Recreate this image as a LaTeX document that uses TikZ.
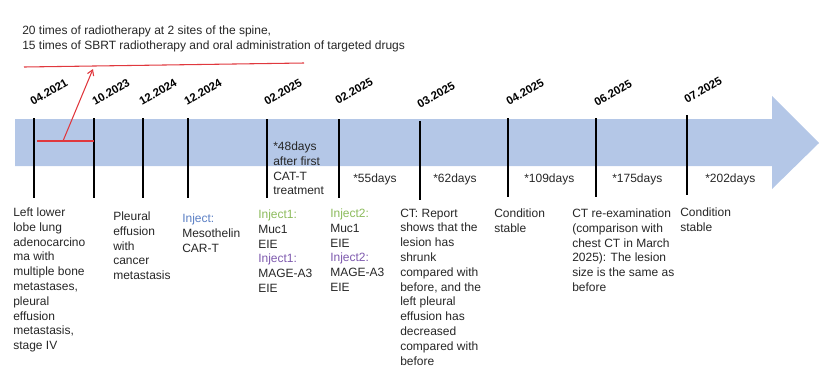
\documentclass[tikz,border=0pt]{standalone}
\usepackage{fontspec}
\setmainfont{Liberation Sans}
\usetikzlibrary{arrows.meta}
\definecolor{bandblue}{HTML}{B4C7E7}
\definecolor{markred}{HTML}{E0383E}
\definecolor{injblue}{HTML}{5B7FC4}
\definecolor{injgreen}{HTML}{8CBB5C}
\definecolor{injpurple}{HTML}{7E5AAE}
\newcommand{\bandcolor}{bandblue}
\newcommand{\tickwidth}{1.5pt}
\newcommand{\redwidth}{0.8pt}

\begin{document}
\begin{tikzpicture}[x=0.75pt,y=0.75pt,
  datelabel/.style={font=\bfseries\fontsize{8.5}{10}\selectfont, anchor=base west, inner sep=0, rotate=30},
  note/.style={font=\fontsize{9}{11.1}\selectfont, align=left, anchor=north west, inner sep=0, text=black!85},
  tickline/.style={line width=\tickwidth}]
\useasboundingbox (0,0) rectangle (823,-383);
% band
\fill[\bandcolor] (15,-119) -- (772,-119) -- (772,-96) -- (819,-143) -- (772,-189) -- (772,-166) -- (15,-166) -- cycle;
% ticks
\coordinate (1top) at (34,-118);  \coordinate (1bot) at (34,-198);
\coordinate (2top) at (94,-118);  \coordinate (2bot) at (94,-198);
\coordinate (3top) at (143,-118); \coordinate (3bot) at (143,-198);
\coordinate (4top) at (188,-118); \coordinate (4bot) at (188,-198);
\coordinate (5top) at (267,-119); \coordinate (5bot) at (267,-198);
\coordinate (6top) at (339,-119); \coordinate (6bot) at (339,-198);
\coordinate (7top) at (420,-121); \coordinate (7bot) at (420,-200);
\coordinate (8top) at (508,-118); \coordinate (8bot) at (508,-197);
\coordinate (9top) at (596,-118); \coordinate (9bot) at (596,-197);
\coordinate (10top) at (687,-115); \coordinate (10bot) at (687,-195);
\draw[tickline] (1top) -- (1bot);
\draw[tickline] (2top) -- (2bot);
\draw[tickline] (3top) -- (3bot);
\draw[tickline] (4top) -- (4bot);
\draw[tickline] (5top) -- (5bot);
\draw[tickline] (6top) -- (6bot);
\draw[tickline] (7top) -- (7bot);
\draw[tickline] (8top) -- (8bot);
\draw[tickline] (9top) -- (9bot);
\draw[tickline] (10top) -- (10bot);
% dates
\node[datelabel] (1) at (33,-106) {04.2021};
\node[datelabel] (2) at (95,-106) {10.2023};
\node[datelabel] (3) at (142,-106) {12.2024};
\node[datelabel] (4) at (187,-106) {12.2024};
\node[datelabel] (5) at (267,-106) {02.2025};
\node[datelabel] (6) at (338,-105) {02.2025};
\node[datelabel] (7) at (420,-109) {03.2025};
\node[datelabel] (8) at (509,-106) {04.2025};
\node[datelabel] (9) at (597,-107) {06.2025};
\node[datelabel] (10) at (687,-104) {07.2025};
% radiotherapy
\node[note] (radio) at (22,-25.5) {20 times of radiotherapy at 2 sites of the spine,\\[0.4pt]15 times of SBRT radiotherapy and oral administration of targeted drugs};
\coordinate (rl) at (24,-67);
\coordinate (rr) at (304,-63);
\coordinate (sl) at (37,-141);
\coordinate (sr) at (94,-141);
\coordinate (sfoot) at (63,-141);
\coordinate (shead) at (93,-69);
\draw[markred, line width=\redwidth] (rl) -- (rr);
\draw[markred, line width=\redwidth] (sl) -- (sr);
\draw[markred, line width=\redwidth, -{Straight Barb[length=4pt,width=5pt]}] (sfoot) -- (shead);
% days
\node[note] (d48) at (273,-141.5) {*48days\\after first\\CAT-T\\treatment};
\node[note] (d55) at (353,-173.5) {*55days};
\node[note] (d62) at (433,-173.5) {*62days};
\node[note] (d109) at (524,-173.5) {*109days};
\node[note] (d175) at (612,-173.5) {*175days};
\node[note] (d202) at (705,-173.5) {*202days};
% events
\node[note] (e1) at (13,-207.5) {Left lower\\lobe lung\\adenocarcino\\ma with\\multiple bone\\metastases,\\pleural\\effusion\\metastasis,\\stage IV};
\node[note] (e2) at (113,-211.5) {Pleural\\effusion\\with\\cancer\\metastasis};
\node[note] (e3) at (182,-213.5) {\textcolor{injblue}{Inject:}\\Mesothelin\\CAR-T};
\node[note] (e4) at (258,-209.5) {\textcolor{injgreen}{Inject1:}\\Muc1\\EIE\\\textcolor{injpurple}{Inject1:}\\MAGE-A3\\EIE};
\node[note] (e5) at (330,-208.5) {\textcolor{injgreen}{Inject2:}\\Muc1\\EIE\\\textcolor{injpurple}{Inject2:}\\MAGE-A3\\EIE};
\node[note] (e6) at (400,-208.5) {CT: Report\\shows that the\\lesion has\\shrunk\\compared with\\before, and the\\left pleural\\effusion has\\decreased\\compared with\\before};
\node[note] (e7) at (494,-208.5) {Condition\\stable};
\node[note] (e8) at (572,-208.5) {CT re-examination\\(comparison with\\chest CT in March\\2025): The lesion\\size is the same as\\before};
\node[note] (e9) at (680,-207.5) {Condition\\stable};
\end{tikzpicture}
\end{document}
